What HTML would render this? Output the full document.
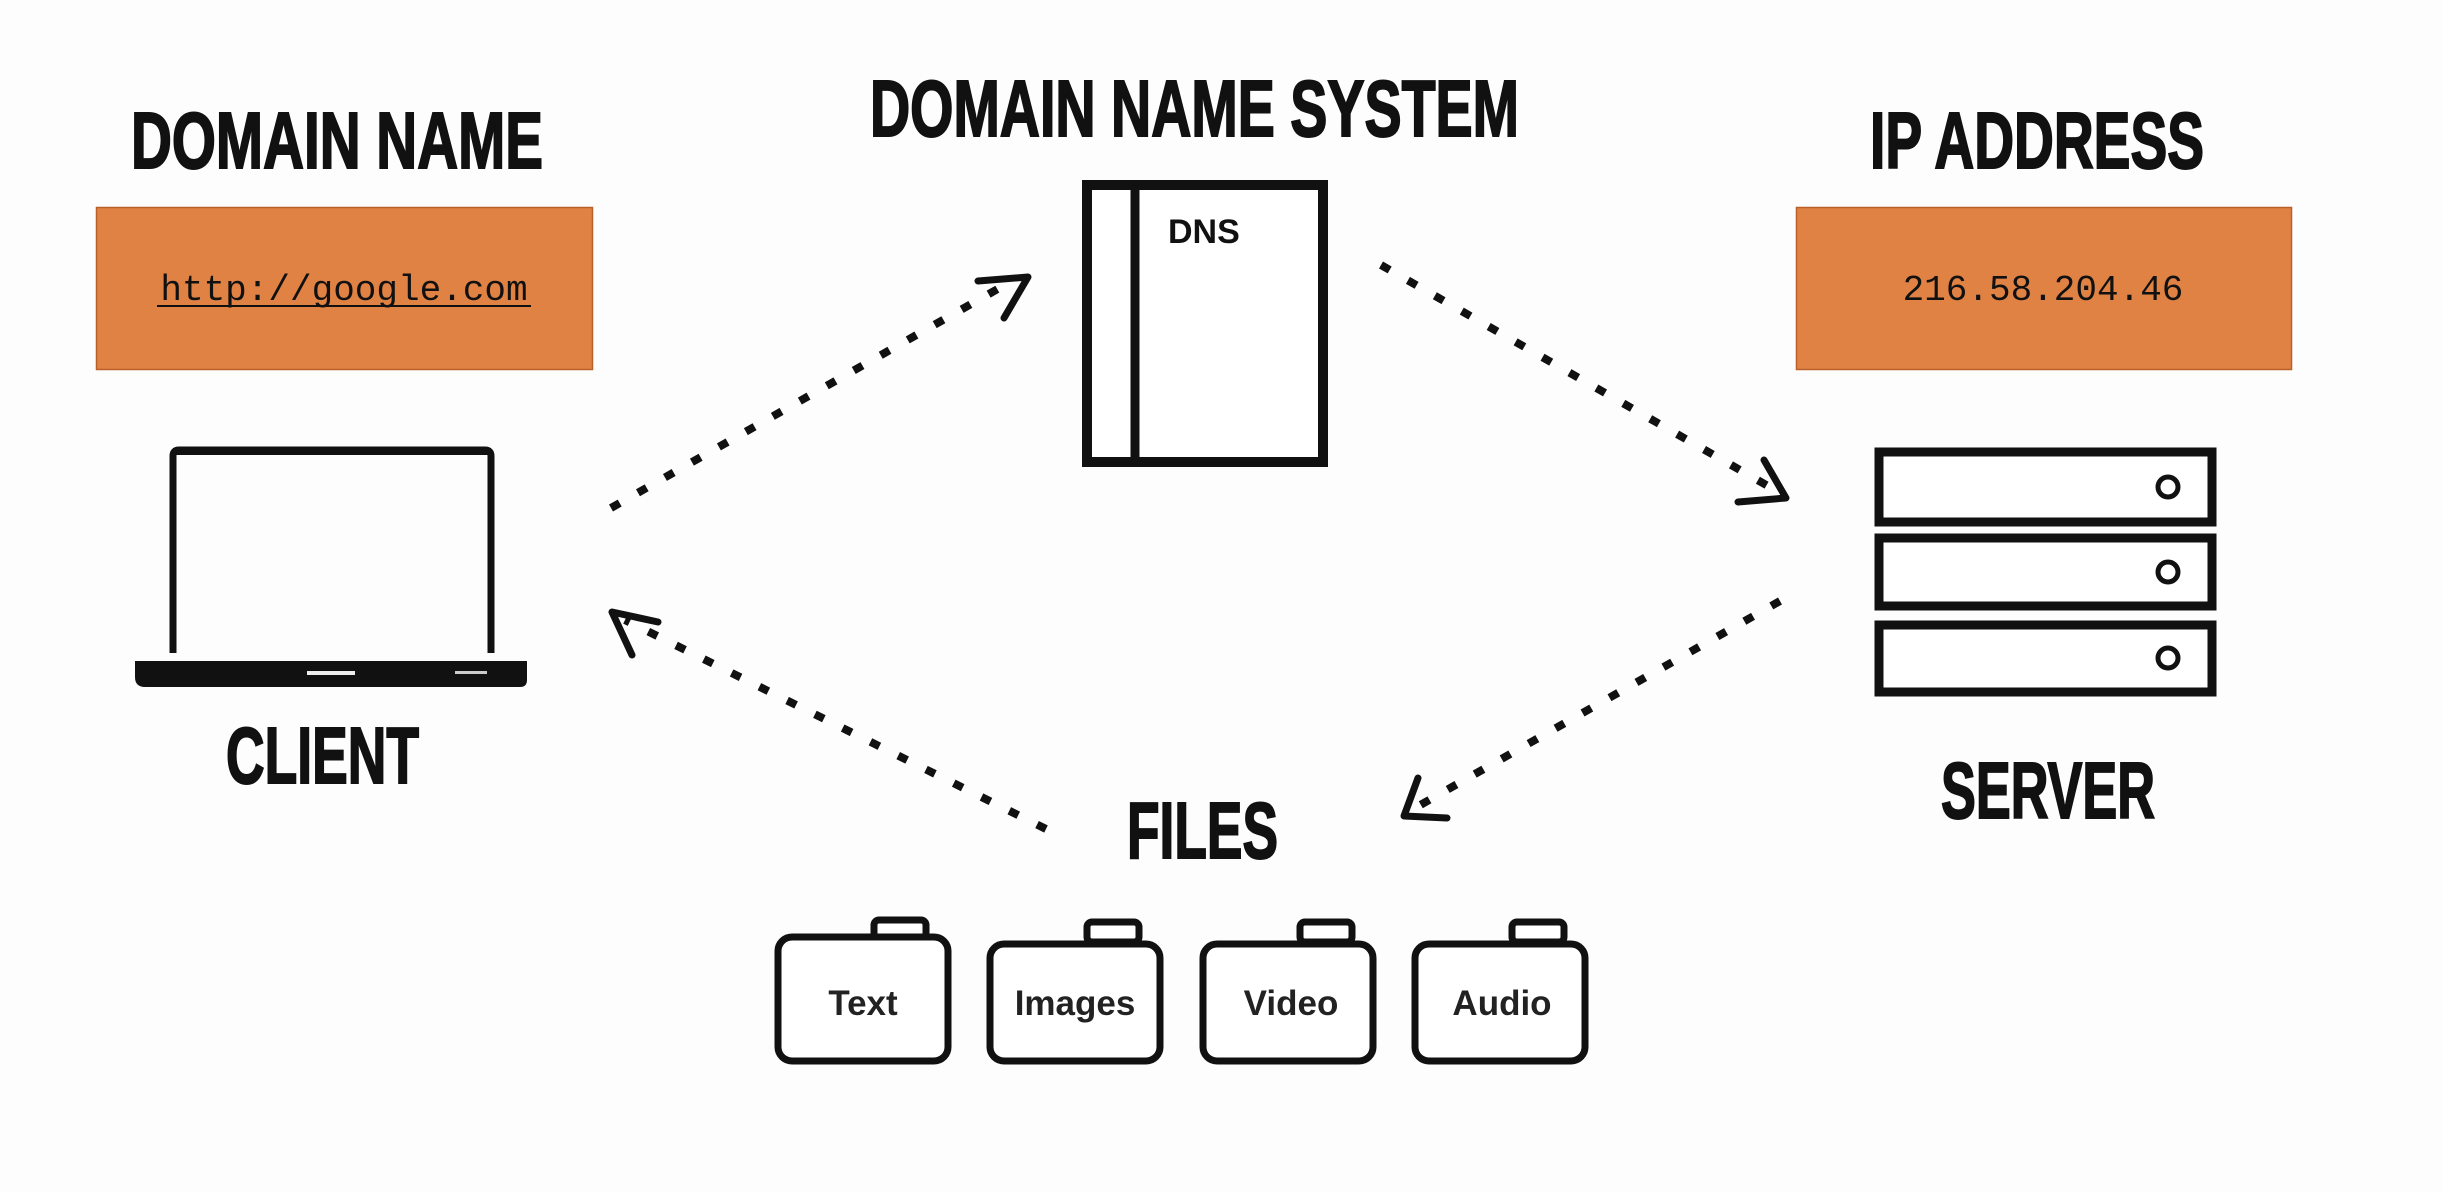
<!DOCTYPE html>
<html><head><meta charset="utf-8"><style>
html,body{margin:0;padding:0;background:#fdfdfd}
svg{display:block}
</style></head><body>
<svg width="2442" height="1192" viewBox="0 0 2442 1192" xmlns="http://www.w3.org/2000/svg">
<rect width="2442" height="1192" fill="#fdfdfd"/>
<g font-family="Liberation Sans, sans-serif" font-weight="bold" fill="#111" stroke="#111" stroke-width="2">
<text x="131" y="168" font-size="80" textLength="412" lengthAdjust="spacingAndGlyphs">DOMAIN NAME</text>
<text x="870" y="136" font-size="80" textLength="649" lengthAdjust="spacingAndGlyphs">DOMAIN NAME SYSTEM</text>
<text x="1870" y="168" font-size="80" textLength="334" lengthAdjust="spacingAndGlyphs">IP ADDRESS</text>
<text x="226" y="783" font-size="80" textLength="193" lengthAdjust="spacingAndGlyphs">CLIENT</text>
<text x="1941" y="818" font-size="80" textLength="214" lengthAdjust="spacingAndGlyphs">SERVER</text>
<text x="1127" y="858" font-size="80" textLength="151" lengthAdjust="spacingAndGlyphs">FILES</text>
</g>
<!-- orange boxes -->
<rect x="96.5" y="207.5" width="496" height="162" fill="#df8244" stroke="#b9602a" stroke-width="1.5"/>
<rect x="1796.5" y="207.5" width="495" height="162" fill="#df8244" stroke="#b9602a" stroke-width="1.5"/>
<text x="344" y="300" font-family="Liberation Mono, monospace" font-size="36" text-anchor="middle" fill="#111">http://google.com</text>
<line x1="157" y1="306" x2="531" y2="306" stroke="#111" stroke-width="2"/>
<text x="2043" y="300" font-family="Liberation Mono, monospace" font-size="36" text-anchor="middle" fill="#111">216.58.204.46</text>
<!-- laptop -->
<path d="M173 653 V456 Q173 450 179 450 H485 Q491 450 491 456 V653" fill="none" stroke="#111" stroke-width="7"/>
<rect x="173" y="448" width="318" height="7" fill="#111"/>
<path d="M135 661 H527 V680 Q527 687 520 687 H145 Q135 687 135 677 Z" fill="#111"/>
<rect x="307" y="671" width="48" height="4" fill="#eee"/>
<rect x="455" y="671" width="32" height="3" fill="#ccc"/>
<!-- DNS book -->
<rect x="1087" y="185" width="236" height="277" fill="#fff" stroke="#111" stroke-width="10"/>
<line x1="1135" y1="185" x2="1135" y2="462" stroke="#111" stroke-width="9"/>
<text x="1168" y="243" font-family="Liberation Sans, sans-serif" font-weight="bold" font-size="34" fill="#111">DNS</text>
<!-- server -->
<g fill="#fff" stroke="#111" stroke-width="9">
<rect x="1879" y="452" width="333" height="70"/>
<rect x="1879" y="538" width="333" height="68"/>
<rect x="1879" y="625" width="333" height="67"/>
</g>
<g fill="none" stroke="#111" stroke-width="5">
<circle cx="2168" cy="487" r="10"/>
<circle cx="2168" cy="572" r="10"/>
<circle cx="2168" cy="658" r="10"/>
</g>
<!-- dotted arrows -->
<g fill="none" stroke="#111" stroke-width="8" stroke-dasharray="10 21">
<line x1="611" y1="508" x2="1010" y2="282"/>
<line x1="1046" y1="829" x2="625" y2="620"/>
<line x1="1381" y1="265" x2="1775" y2="490"/>
<line x1="1780" y1="601" x2="1415" y2="808"/>
</g>
<g fill="none" stroke="#111" stroke-width="7" stroke-linecap="round" stroke-linejoin="round">
<path d="M978 281 L1028 277 L1004 318"/>
<path d="M632 655 L612 612 L658 622"/>
<path d="M1764 460 L1786 498 L1738 502"/>
<path d="M1418 778 L1404 816 L1447 818"/>
</g>
<!-- folders -->
<g fill="#fff" stroke="#111" stroke-width="7">
<rect x="874" y="920" width="52" height="18" rx="5"/>
<rect x="778" y="937" width="170" height="124" rx="14"/>
<rect x="1087" y="922" width="52" height="20" rx="5"/>
<rect x="990" y="944" width="170" height="117" rx="14"/>
<rect x="1300" y="922" width="52" height="20" rx="5"/>
<rect x="1203" y="944" width="170" height="117" rx="14"/>
<rect x="1512" y="922" width="52" height="20" rx="5"/>
<rect x="1415" y="944" width="170" height="117" rx="14"/>
</g>
<g font-family="Liberation Sans, sans-serif" font-weight="bold" font-size="35" fill="#222" text-anchor="middle">
<text x="863" y="1015">Text</text>
<text x="1075" y="1015">Images</text>
<text x="1291" y="1015">Video</text>
<text x="1502" y="1015">Audio</text>
</g>
</svg>
</body></html>
